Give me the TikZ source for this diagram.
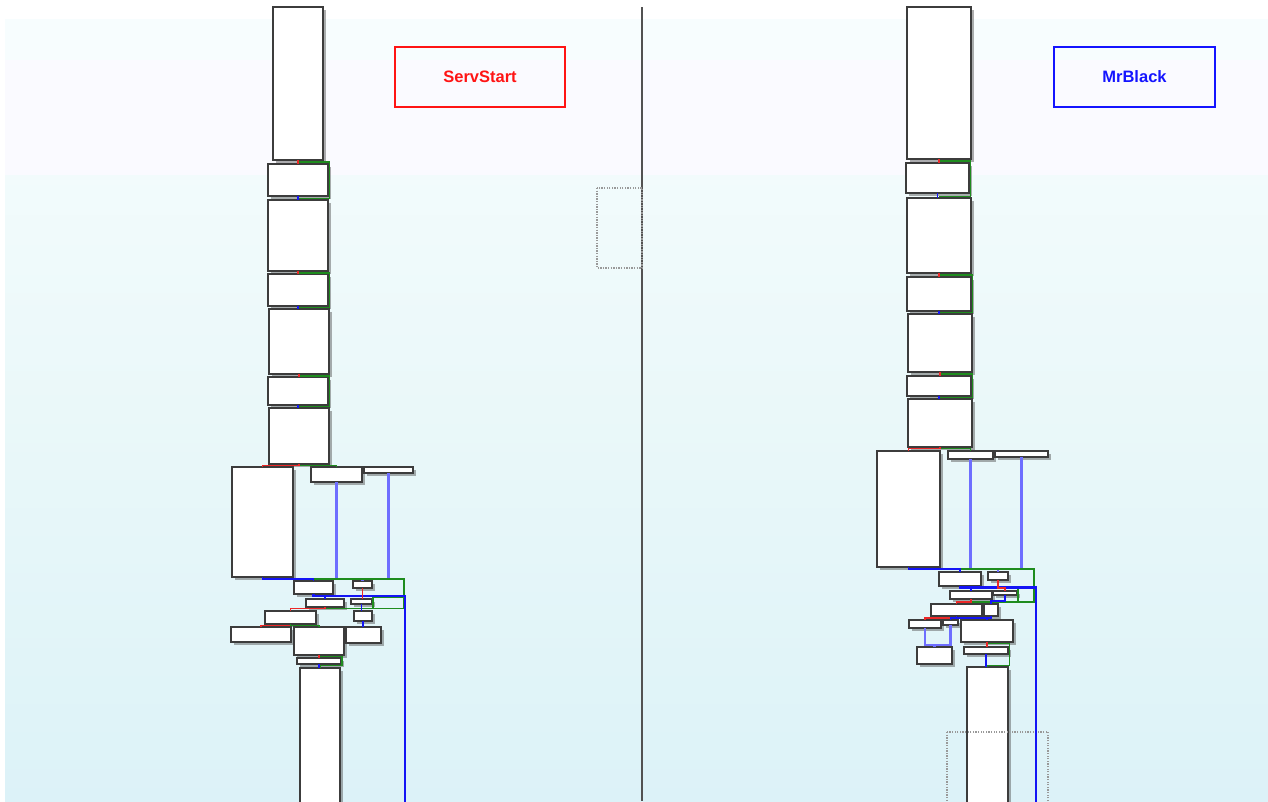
\documentclass[tikz,border=0pt]{standalone}
\usepackage{fontspec}
\newfontfamily\labfont{Liberation Sans}
\usetikzlibrary{shadows,calc}
\definecolor{edgered}{RGB}{235,40,40}
\definecolor{edgegreen}{RGB}{30,140,30}
\definecolor{edgeblue}{RGB}{20,20,245}
\definecolor{lightedge}{RGB}{110,110,255}
\definecolor{boxline}{RGB}{60,60,60}
\definecolor{bgtop}{RGB}{247,253,254}
\definecolor{bgmid}{RGB}{234,248,249}
\definecolor{bgbot}{RGB}{220,242,248}
\definecolor{bglav}{RGB}{250,250,255}
\definecolor{labred}{RGB}{255,20,20}
\definecolor{labblue}{RGB}{20,20,255}
\tikzset{
 blk/.style={draw=boxline, fill=white, line width=1.3pt, inner sep=0pt, outer sep=0pt, anchor=north west,
   drop shadow={shadow xshift=2.8pt, shadow yshift=-2.8pt, fill=black!70, opacity=0.45}},
 ered/.style={draw=edgered, line width=1.4pt},
 egreen/.style={draw=edgegreen, line width=1.4pt},
 eblue/.style={draw=edgeblue, line width=1.4pt},
 elight/.style={draw=lightedge, line width=2.3pt},
 ethick/.style={draw=edgeblue, line width=2.3pt},
 dotbox/.style={draw=black!40, line width=1.3pt, dash pattern=on 1.3pt off 1.3pt},
 titlebox/.style={line width=2.8pt, inner sep=0pt, font=\labfont\bfseries\fontsize{16.5}{18}\selectfont, minimum height=60pt}
}
\newcommand\bx[5]{\node[blk,minimum width=\fpeval{#4-#2}pt,minimum height=\fpeval{#5-#3}pt] (#1) at (#2,#3) {};}
\newcommand\chainthree[3]{%
 \draw[egreen] (#1.south) -- ++(0,2) -| ($(#2.east)+(1.5,0)$) |- ($(#3.north)+(0,-1.5)$);
 \draw[ered] (#1.south) -- (#1.south |- #2.north);
 \draw[eblue] (#2.south) -- (#2.south |- #3.north);}
\begin{document}
\begin{tikzpicture}[x=1pt,y=-1pt]
\useasboundingbox (0,0) rectangle (1268,801);
\clip (0,0) rectangle (1268,801);
\fill[white] (0,0) rectangle (1268,801);
\shade[top color=bgtop, bottom color=bgbot, middle color=bgmid] (5,19) rectangle (1268,801);
\fill[bgtop] (5,19) rectangle (1268,60);
\fill[bglav] (5,60) rectangle (1268,175);
% separator
\draw[line width=2pt, black!68] (642,7) -- (642,801);
% dotted boxes
\draw[dotbox] (597,188) rectangle (642,268);
% left boxes
\bx{b1}{273}{7}{323}{160}
\bx{b2}{268}{164}{328}{196}
\bx{b3}{268}{200}{328}{271}
\bx{b4}{268}{274}{328}{306}
\bx{b5}{269}{309}{329}{374}
\bx{b6}{268}{377}{328}{405}
\bx{b7}{269}{408}{329}{464}
\bx{b8}{232}{467}{293}{577}
\bx{b9}{311}{467}{362}{482}
\bx{b10}{364}{467}{413}{473}
\bx{b11}{294}{581}{333}{594}
\bx{b12}{353}{581}{372}{588}
\bx{b13}{306}{599}{344}{607}
\bx{b14}{351}{599}{372}{604}
\bx{b15}{354}{611}{372}{621}
\bx{b16}{265}{611}{316}{624}
\bx{b17}{231}{627}{291}{642}
\bx{b18}{294}{627}{344}{655}
\bx{b19}{346}{627}{381}{643}
\bx{b20}{297}{658}{341}{664}
\bx{b21}{300}{668}{340}{820}
% right boxes
\bx{r1}{907}{7}{971}{159}
\bx{r2}{906}{163}{969}{193}
\bx{r3}{907}{198}{971}{273}
\bx{r4}{907}{277}{971}{311}
\bx{r5}{908}{314}{972}{372}
\bx{r6}{907}{376}{971}{396}
\bx{r7}{908}{399}{972}{447}
\bx{r8}{877}{451}{940}{567}
\bx{r9}{948}{451}{993}{459}
\bx{r10}{995}{451}{1048}{457}
\bx{r11}{939}{572}{981}{586}
\bx{r12}{988}{572}{1008}{580}
\bx{r13}{950}{591}{992}{599}
\bx{r14}{993}{591}{1017}{595}
\bx{r15}{931}{604}{982}{616}
\bx{r16}{984}{604}{998}{616}
\bx{r17}{909}{620}{941}{628}
\bx{r18}{943}{620}{958}{625}
\bx{r19}{961}{620}{1013}{642}
\bx{r20}{917}{647}{952}{664}
\bx{r21}{964}{647}{1008}{654}
\bx{r22}{967}{667}{1008}{820}
\draw[dotbox] (947,732) rectangle (1048,820);
% coordinates for free ends
\coordinate (lend) at (405,820);
\coordinate (rend) at (1036,820);
\coordinate (lj) at (362.5,579);
\coordinate (rj) at (998,569);
\coordinate (rj2) at (934.5,645);
% left edges
\chainthree{b1}{b2}{b3}
\chainthree{b3}{b4}{b5}
\chainthree{b5}{b6}{b7}
\draw[egreen] (b7.south) -- ++(0,1.5) -| (b9.north);
\draw[ered] (b7.south) -- ++(0,1.5) -| (b8.north);
\draw[elight] (b9.south) |- (lj);
\draw[elight] (b10.south) |- (lj) -- (lj |- b12.north);
\draw[egreen] (b13.south) |- (404,608.5) -- (404,579) -| (b11.north);
\draw[egreen] (373,608.5) -- (373,597) -- (404,597);
\draw[eblue] (b8.south) -- ++(0,2) -| (b11.north);
\draw[ethick] (b11.south) -- ++(0,2) -| (lend);
\draw[eblue] (b11.south) -- ++(0,2) -| (b13.north);
\draw[ered] (b12.south) -- (b12.south |- b14.north);
\draw[eblue] (b14.south) -- (b14.south |- b15.north);
\draw[eblue] (b15.south) -- (b15.south |- b19.north);
\draw[ered] (b13.south) -- ++(0,1.5) -| (b16.north);
\draw[ered] (b16.south) -- ++(0,1.5) -| (b17.north);
\draw[egreen] (b16.south) -- ++(0,1.5) -| (b18.north);
\draw[egreen] (b18.south) -- ++(0,1.5) -| (342,665.5) -| (b21.north);
\draw[ered] (b18.south) -- (b18.south |- b20.north);
\draw[eblue] (b20.south) -- (b20.south |- b21.north);
% right edges
\chainthree{r1}{r2}{r3}
\chainthree{r3}{r4}{r5}
\chainthree{r5}{r6}{r7}
\draw[egreen] (r7.south) -- ++(0,1.5) -| (r9.north);
\draw[ered] (r7.south) -- ++(0,1.5) -| (r8.north);
\draw[elight] (r9.south) |- (rj);
\draw[elight] (r10.south) |- (rj) -- (rj |- r12.north);
\draw[egreen] (r13.south) |- (1034,602) -- (1034,569) -| (r11.north);
\draw[egreen] (1018,602) -- (1018,588) -- (1034,588);
\draw[eblue] (r8.south) -- ++(0,2) -| (r11.north);
\draw[ethick] (r11.south) -- ++(0,1.5) -| (rend);
\draw[eblue] (r11.south) -- ++(0,1.5) -| (r13.north);
\draw[ered] (r12.south) -- ++(0,8) -| (r14.north);
\draw[eblue] (r14.south) -- ++(0,6) -| (r16.north);
\draw[ered] (r13.south) -- ++(0,3) -| (r15.north);
\draw[ered] (r15.south) -- ++(0,2) -| (r17.north);
\draw[eblue] (r15.south) -- ++(0,2) -| (r19.north);
\draw[eblue] (r16.south) -- ++(0,2) -| (r18.north);
\draw[elight] (r17.south) |- (rj2);
\draw[elight] (r18.south) |- (rj2) -- (rj2 |- r20.north);
\draw[egreen] (r19.south) -- ++(0,1.5) -| (1009.5,665.5) -| (r22.north);
\draw[ered] (r19.south) -- (r19.south |- r21.north);
\draw[eblue] (r21.south) -- (r21.south |- r22.north);
% titles
\node[titlebox, draw=labred, text=labred, minimum width=170pt] (servstart) at (480,77) {ServStart};
\node[titlebox, draw=labblue, text=labblue, minimum width=161pt] (mrblack) at (1134.5,77) {MrBlack};
\end{tikzpicture}
\end{document}
